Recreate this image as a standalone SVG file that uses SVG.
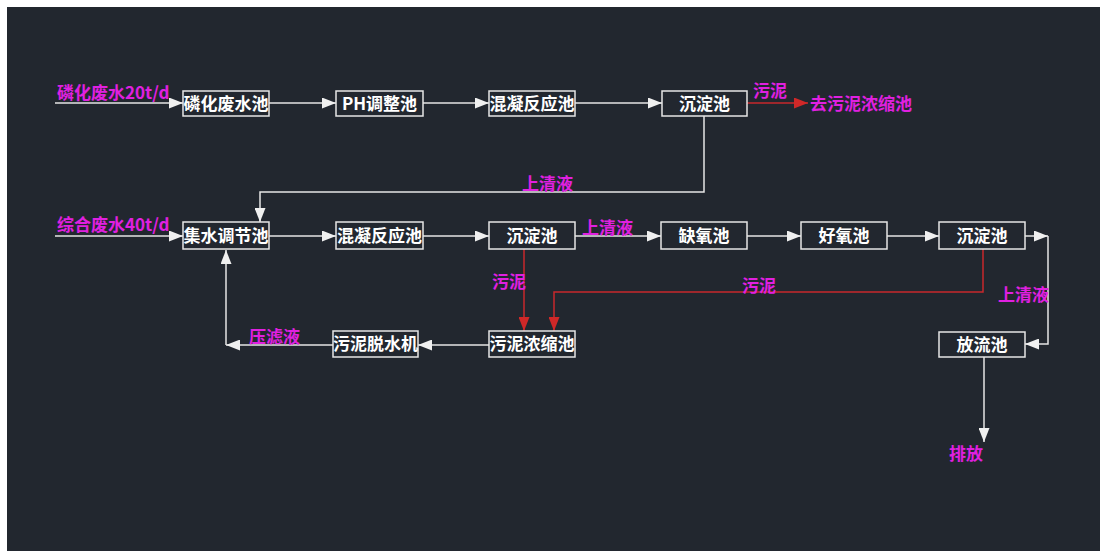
<svg xmlns="http://www.w3.org/2000/svg" width="1107" height="551" viewBox="0 0 1107 551">
<style>
.box{fill:#22272f;stroke:#e6e6e6;stroke-width:1.5}
.bt{font-family:"Noto Sans CJK SC","Liberation Serif",serif;font-size:17px;fill:#ffffff;text-anchor:middle;font-weight:bold}
.lb{font-family:"Noto Sans CJK SC","Liberation Sans",sans-serif;font-size:17px;fill:#e020e0;font-weight:bold}
.w{fill:none;stroke:#e6e6e6;stroke-width:1.5}
.r{fill:none;stroke:#c8282c;stroke-width:1.5}
</style>
<defs>
<marker id="aw" markerUnits="userSpaceOnUse" markerWidth="15" markerHeight="11" refX="14" refY="5.5" orient="auto"><path d="M0,0 L14,5.5 L0,11 z" fill="#f0f0f0"/></marker>
<marker id="ar" markerUnits="userSpaceOnUse" markerWidth="15" markerHeight="11" refX="14" refY="5.5" orient="auto"><path d="M0,0 L14,5.5 L0,11 z" fill="#d02828"/></marker>
</defs>
<rect x="0" y="0" width="1107" height="551" fill="#ffffff"/>
<rect x="7" y="7" width="1093" height="544" fill="#22272f"/>
<g id="connectors">
<path class="w" d="M55,103 H183" marker-end="url(#aw)"/>
<path class="w" d="M269,103 H336" marker-end="url(#aw)"/>
<path class="w" d="M423,103 H489" marker-end="url(#aw)"/>
<path class="w" d="M575,103 H662" marker-end="url(#aw)"/>
<path class="r" d="M747,103 H808" marker-end="url(#ar)"/>
<path class="w" d="M704,116 V192 H260 V222" marker-end="url(#aw)"/>
<path class="w" d="M55,236 H183" marker-end="url(#aw)"/>
<path class="w" d="M269,236 H336" marker-end="url(#aw)"/>
<path class="w" d="M423,236 H489" marker-end="url(#aw)"/>
<path class="w" d="M575,236 H661" marker-end="url(#aw)"/>
<path class="w" d="M747,236 H801" marker-end="url(#aw)"/>
<path class="w" d="M887,236 H939" marker-end="url(#aw)"/>
<path class="w" d="M1025,236 H1048" marker-end="url(#aw)"/>
<path class="w" d="M1048,236 V344 H1025" marker-end="url(#aw)"/>
<path class="w" d="M984,357 V442" marker-end="url(#aw)"/>
<path class="r" d="M524,249 V331" marker-end="url(#ar)"/>
<path class="r" d="M983,249 V292 H554 V331" marker-end="url(#ar)"/>
<path class="w" d="M489,345 H418" marker-end="url(#aw)"/>
<path class="w" d="M333,345 H226" marker-end="url(#aw)"/>
<path class="w" d="M226,345 V250" marker-end="url(#aw)"/>
</g>
<g id="labels">
<text class="lb" x="57" y="99">磷化废水20t/d</text>
<text class="lb" x="753" y="97">污泥</text>
<text class="lb" x="810" y="110">去污泥浓缩池</text>
<text class="lb" x="522" y="190">上清液</text>
<text class="lb" x="57" y="231">综合废水40t/d</text>
<text class="lb" x="582" y="234">上清液</text>
<text class="lb" x="492" y="288">污泥</text>
<text class="lb" x="742" y="292">污泥</text>
<text class="lb" x="998" y="301">上清液</text>
<text class="lb" x="249" y="343">压滤液</text>
<text class="lb" x="949" y="460">排放</text>
</g>
<g id="n1"><rect class="box" x="183" y="91" width="86" height="25"/><text class="bt" x="226" y="109.5">磷化废水池</text></g>
<g id="n2"><rect class="box" x="336" y="91" width="87" height="25"/><text class="bt" x="379.5" y="109.5">PH调整池</text></g>
<g id="n3"><rect class="box" x="489" y="91" width="86" height="25"/><text class="bt" x="532" y="109.5">混凝反应池</text></g>
<g id="n4"><rect class="box" x="662" y="91" width="85" height="25"/><text class="bt" x="704.5" y="109.5">沉淀池</text></g>
<g id="n5"><rect class="box" x="183" y="222" width="86" height="27"/><text class="bt" x="226" y="241.5">集水调节池</text></g>
<g id="n6"><rect class="box" x="336" y="222" width="87" height="27"/><text class="bt" x="379.5" y="241.5">混凝反应池</text></g>
<g id="n7"><rect class="box" x="489" y="222" width="86" height="27"/><text class="bt" x="532" y="241.5">沉淀池</text></g>
<g id="n8"><rect class="box" x="661" y="222" width="86" height="27"/><text class="bt" x="704" y="241.5">缺氧池</text></g>
<g id="n9"><rect class="box" x="801" y="222" width="86" height="27"/><text class="bt" x="844" y="241.5">好氧池</text></g>
<g id="n10"><rect class="box" x="939" y="222" width="86" height="27"/><text class="bt" x="982" y="241.5">沉淀池</text></g>
<g id="n11"><rect class="box" x="939" y="332" width="86" height="25"/><text class="bt" x="982" y="350.5">放流池</text></g>
<g id="n12"><rect class="box" x="489" y="331" width="86" height="26"/><text class="bt" x="532" y="350">污泥浓缩池</text></g>
<g id="n13"><rect class="box" x="333" y="331" width="85" height="26"/><text class="bt" x="375.5" y="350">污泥脱水机</text></g>
</svg>
